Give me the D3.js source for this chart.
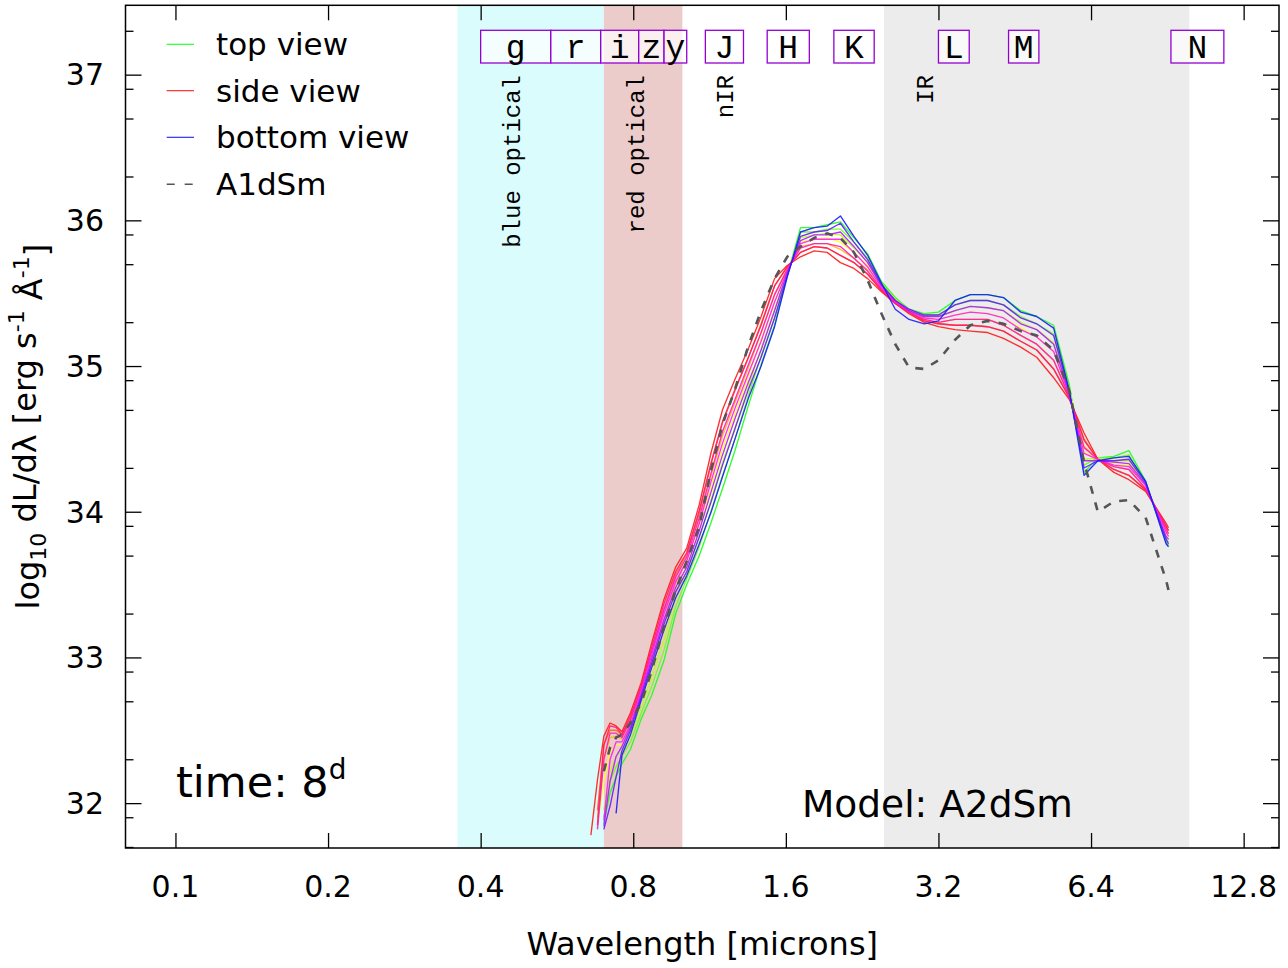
<!DOCTYPE html>
<html><head><meta charset="utf-8">
<script src="https://cdn.jsdelivr.net/npm/d3@7"></script>
<style>
body{margin:0;background:#fff}
text{font-family:"DejaVu Sans",Verdana,sans-serif;fill:#000}
.mono{font-family:"Liberation Mono","Courier New",monospace}
</style>
</head><body>
<svg id="chart" width="1288" height="968"></svg>
<script>
// ---------------- data ----------------
const wavelengths = [0.66,0.68,0.70,0.72,0.74,0.76,0.79,0.83,0.87,0.92,
  0.97,1.02,1.08,1.14,1.20,1.27,1.35,1.43,1.52,1.61,
  1.71,1.82,1.93,2.05,2.18,2.32,2.47,2.63,2.80,3.00,
  3.20,3.45,3.70,4.00,4.30,4.65,5.00,5.40,5.80,6.20,
  6.60,7.10,7.60,8.20,9.00,9.10];

// log10 dL/dlambda for each viewing direction (top -> side -> bottom)
const viewTop = [null,null,31.86,32.07,32.18,32.27,32.37,32.58,32.74,32.98,
  33.30,33.50,33.70,33.93,34.16,34.42,34.73,35.01,35.28,35.62,
  35.95,35.95,35.97,35.99,35.88,35.77,35.58,35.47,35.39,35.36,
  35.37,35.45,35.49,35.49,35.47,35.38,35.34,35.28,34.87,34.27,
  34.37,34.38,34.42,34.21,33.79,33.77];
const view1 = [null,null,31.90,32.15,32.25,32.32,32.42,32.62,32.80,33.05,
  33.35,33.54,33.76,34.01,34.25,34.50,34.80,35.07,35.33,35.63,
  35.92,35.92,35.94,35.94,35.85,35.74,35.57,35.46,35.39,35.35,
  35.35,35.42,35.45,35.45,35.42,35.34,35.29,35.22,34.85,34.32,
  34.37,34.37,34.39,34.20,33.81,33.79];
const view2 = [null,null,31.95,32.22,32.32,32.36,32.46,32.66,32.86,33.12,
  33.41,33.58,33.82,34.09,34.34,34.58,34.86,35.12,35.39,35.64,
  35.88,35.90,35.91,35.90,35.81,35.71,35.56,35.46,35.38,35.34,
  35.34,35.38,35.41,35.40,35.38,35.30,35.25,35.16,34.84,34.36,
  34.37,34.35,34.35,34.19,33.83,33.81];
const view3 = [null,31.85,32.15,32.35,32.40,32.40,32.50,32.71,32.92,33.19,
  33.46,33.63,33.88,34.17,34.43,34.67,34.93,35.18,35.44,35.66,
  35.85,35.87,35.88,35.85,35.78,35.69,35.55,35.45,35.38,35.33,
  35.32,35.35,35.37,35.36,35.33,35.26,35.20,35.10,34.82,34.41,
  34.36,34.33,34.32,34.18,33.86,33.83];
const view4 = [null,31.90,32.30,32.45,32.46,32.44,32.55,32.75,32.98,33.26,
  33.51,33.67,33.93,34.25,34.52,34.75,34.99,35.23,35.49,35.67,
  35.82,35.84,35.84,35.80,35.74,35.66,35.53,35.44,35.37,35.32,
  35.30,35.32,35.32,35.32,35.28,35.21,35.15,35.04,34.80,34.45,
  34.36,34.31,34.29,34.16,33.88,33.85];
const view5 = [null,31.95,32.40,32.50,32.50,32.47,32.58,32.79,33.04,33.33,
  33.57,33.71,33.99,34.33,34.61,34.83,35.06,35.29,35.55,35.68,
  35.78,35.82,35.81,35.76,35.71,35.63,35.52,35.44,35.37,35.31,
  35.29,35.28,35.28,35.27,35.24,35.17,35.11,34.98,34.79,34.50,
  34.36,34.29,34.25,34.15,33.90,33.87];
const viewSide = [31.78,32.16,32.46,32.55,32.53,32.49,32.62,32.83,33.10,33.40,
  33.62,33.75,34.05,34.41,34.70,34.91,35.12,35.34,35.60,35.69,
  35.75,35.79,35.78,35.71,35.67,35.60,35.51,35.43,35.36,35.30,
  35.27,35.25,35.24,35.23,35.19,35.13,35.06,34.92,34.77,34.54,
  34.36,34.27,34.22,34.14,33.92,33.89];
const view7 = [null,31.85,32.40,32.53,32.52,32.47,32.60,32.81,33.07,33.37,
  33.59,33.72,34.01,34.34,34.62,34.84,35.06,35.28,35.55,35.68,
  35.78,35.82,35.81,35.76,35.71,35.63,35.52,35.43,35.37,35.31,
  35.29,35.28,35.28,35.27,35.24,35.17,35.11,34.98,34.78,34.49,
  34.36,34.29,34.25,34.15,33.90,33.87];
const view8 = [null,31.82,32.30,32.48,32.48,32.45,32.57,32.79,33.04,33.33,
  33.55,33.69,33.96,34.27,34.55,34.77,35.01,35.23,35.49,35.66,
  35.81,35.84,35.84,35.82,35.74,35.65,35.53,35.44,35.37,35.32,
  35.30,35.32,35.32,35.32,35.28,35.21,35.15,35.04,34.79,34.44,
  34.36,34.31,34.29,34.16,33.88,33.85];
const view9 = [null,null,31.88,32.30,32.42,32.42,32.54,32.77,33.02,33.30,
  33.52,33.66,33.92,34.21,34.47,34.71,34.95,35.17,35.44,35.65,
  35.84,35.87,35.87,35.87,35.78,35.68,35.54,35.44,35.38,35.33,
  35.32,35.35,35.37,35.36,35.33,35.25,35.20,35.10,34.80,34.40,
  34.36,34.32,34.31,34.18,33.86,33.83];
const view10 = [null,null,31.84,32.15,32.32,32.39,32.52,32.75,32.99,33.26,
  33.48,33.62,33.87,34.14,34.39,34.64,34.89,35.11,35.38,35.64,
  35.86,35.90,35.90,35.92,35.82,35.71,35.55,35.45,35.38,35.34,
  35.34,35.38,35.41,35.40,35.38,35.29,35.25,35.15,34.81,34.35,
  34.35,34.34,34.33,34.19,33.83,33.81];
const view11 = [null,null,31.82,31.98,32.18,32.36,32.50,32.73,32.96,33.23,
  33.45,33.59,33.83,34.07,34.32,34.57,34.84,35.06,35.33,35.62,
  35.89,35.92,35.93,35.98,35.85,35.73,35.56,35.45,35.39,35.35,
  35.35,35.42,35.45,35.45,35.42,35.33,35.29,35.21,34.82,34.30,
  34.35,34.35,34.36,34.20,33.81,33.78];
const viewBottom = [null,null,null,null,31.93,32.33,32.47,32.71,32.93,33.19,
  33.41,33.56,33.78,34.00,34.24,34.50,34.78,35.00,35.27,35.61,
  35.92,35.95,35.96,36.03,35.89,35.76,35.57,35.39,35.32,35.29,
  35.31,35.45,35.49,35.49,35.47,35.37,35.34,35.26,34.83,34.25,
  34.35,34.37,34.38,34.21,33.78,33.76];
const modelA1dSm = [null,null,32.22,32.38,32.45,32.47,32.55,32.69,32.91,33.21,
  33.46,33.66,33.90,34.29,34.60,34.84,35.14,35.38,35.60,35.75,
  35.82,35.88,35.91,35.88,35.78,35.59,35.36,35.15,34.99,34.98,
  35.04,35.18,35.28,35.31,35.29,35.24,35.21,35.11,34.83,34.34,
  34.00,34.07,34.08,33.96,33.53,33.46];

const viewSeries = [viewTop,view1,view2,view3,view4,view5,viewSide,
  view7,view8,view9,view10,view11,viewBottom];

const legendLabels = ["top view","side view","bottom view","A1dSm"];

const xTicks = [0.1,0.2,0.4,0.8,1.6,3.2,6.4,12.8];
const xTickLabels = ["0.1","0.2","0.4","0.8","1.6","3.2","6.4","12.8"];
const yTicks = [32,33,34,35,36,37];
const yMinorMultipliers = [2,5,8];

const bandLo = [0.36,0.70,2.5];
const bandHi = [0.70,1.00,10.0];

const filterNames = ["g","r","i","z","y","J","H","K","L","M","N"];
const filterLo = [0.40,0.55,0.69,0.82,0.92,1.11,1.47,1.99,3.20,4.40,9.20];
const filterHi = [0.55,0.69,0.82,0.92,1.02,1.32,1.78,2.39,3.68,5.05,11.70];

const regionLabels = ["blue optical","red optical","nIR","IR"];
const regionLabelWl = [0.46,0.81,1.21,3.0];

// ---------------- layout ----------------
const X0 = 125.5, X1 = 1279, Y0 = 5.3, Y1 = 848;
const svg = d3.select("#chart");
svg.append("rect").attr("width",1288).attr("height",968).attr("fill","#fff");

const x = d3.scaleLog().base(2).domain([0.0797, 15.03]).range([X0, X1]);
const y = d3.scaleLinear().domain([31.692, 37.476]).range([Y1, Y0]);

// bands
const bandColors = ["#dbfcfc","#ecccca","#ececec"];
svg.append("g").selectAll("rect").data(bandLo).join("rect")
  .attr("x",(d)=>x(d)).attr("width",(d,i)=>x(bandHi[i])-x(d))
  .attr("y",Y0).attr("height",Y1-Y0).attr("fill",(d,i)=>bandColors[i]);

// filter boxes
const fg = svg.append("g");
fg.selectAll("rect").data(filterNames).join("rect")
  .attr("x",(d,i)=>x(filterLo[i])).attr("width",(d,i)=>x(filterHi[i])-x(filterLo[i]))
  .attr("y",30.3).attr("height",32.7)
  .attr("fill","#fff").attr("fill-opacity",0.7)
  .attr("stroke","#9400d3").attr("stroke-width",1.3);
fg.selectAll("text").data(filterNames).join("text")
  .attr("class","mono")
  .attr("x",(d,i)=>x(Math.sqrt(filterLo[i]*filterHi[i])))
  .attr("y",58).attr("text-anchor","middle")
  .style("font-size","33px").text(d=>d);

// region labels
svg.append("g").selectAll("text").data(regionLabels).join("text")
  .attr("class","mono")
  .attr("transform",(d,i)=>`translate(${x(regionLabelWl[i])},75) rotate(-90)`)
  .attr("text-anchor","end").attr("dy","0.35em")
  .style("font-size","24px").text(d=>d);

// curves
const line = d3.line()
  .defined(d=>d[1]!=null)
  .x(d=>x(d[0])).y(d=>y(d[1]));
const nV = viewSeries.length, half = (nV-1)/2;
function viewColor(j){
  const h = j<=half ? 120 - 120*j/half : 360 - 120*(j-half)/half;
  return d3.hsl(h,1,0.55).formatRgb();
}
const cg = svg.append("g").attr("fill","none");
viewSeries.forEach((s,j)=>{
  cg.append("path")
    .attr("d", line(wavelengths.map((w,i)=>[w,s[i]])))
    .attr("stroke", viewColor(j)).attr("stroke-width",1.35)
    .attr("stroke-opacity",0.9).attr("stroke-linejoin","round");
});
cg.append("path")
  .attr("d", line(wavelengths.map((w,i)=>[w,modelA1dSm[i]])))
  .attr("stroke","#555").attr("stroke-width",2.6)
  .attr("stroke-dasharray","8,9");

// axes ticks
function styleAxis(g){ g.select(".domain").remove(); g.selectAll("line").attr("stroke","#000").attr("stroke-width",1.3); }
svg.append("g").attr("transform",`translate(0,${Y1})`)
  .call(d3.axisBottom(x).tickValues(xTicks).tickSize(-15).tickFormat("")).call(styleAxis);
svg.append("g").attr("transform",`translate(0,${Y0})`)
  .call(d3.axisTop(x).tickValues(xTicks).tickSize(-15).tickFormat("")).call(styleAxis);
const yMinor = [];
for(let n=31;n<=37;n++) yMinorMultipliers.forEach(m=>{ const v=n+Math.log10(m); if(v>y.domain()[0]&&v<y.domain()[1]) yMinor.push(v); });
svg.append("g").attr("transform",`translate(${X0},0)`)
  .call(d3.axisLeft(y).tickValues(yTicks).tickSize(-16).tickFormat("")).call(styleAxis);
svg.append("g").attr("transform",`translate(${X0},0)`)
  .call(d3.axisLeft(y).tickValues(yMinor).tickSize(-8).tickFormat("")).call(styleAxis);
svg.append("g").attr("transform",`translate(${X1},0)`)
  .call(d3.axisRight(y).tickValues(yTicks).tickSize(-16).tickFormat("")).call(styleAxis);
svg.append("g").attr("transform",`translate(${X1},0)`)
  .call(d3.axisRight(y).tickValues(yMinor).tickSize(-8).tickFormat("")).call(styleAxis);

// frame
svg.append("rect").attr("x",X0).attr("y",Y0).attr("width",X1-X0).attr("height",Y1-Y0)
  .attr("fill","none").attr("stroke","#000").attr("stroke-width",1.5);

// tick labels
svg.append("g").selectAll("text").data(xTicks).join("text")
  .attr("x",d=>x(d)).attr("y",897).attr("text-anchor","middle")
  .style("font-size","30px").text((d,i)=>xTickLabels[i]);
svg.append("g").selectAll("text").data(yTicks).join("text")
  .attr("x",104).attr("y",d=>y(d)).attr("dy","0.36em").attr("text-anchor","end")
  .style("font-size","30px").text(d=>d);

// axis titles
svg.append("text").attr("x",(X0+X1)/2).attr("y",955).attr("text-anchor","middle")
  .style("font-size","32px").text("Wavelength [microns]");
const yt = svg.append("text").attr("transform",`translate(39,${(Y0+Y1)/2}) rotate(-90)`)
  .attr("text-anchor","middle").style("font-size","32px");
yt.append("tspan").text("log");
yt.append("tspan").attr("dy","0.3em").style("font-size","22px").text("10");
yt.append("tspan").attr("dy","-0.3em").text(" dL/dλ [erg s");
yt.append("tspan").attr("dy","-0.55em").style("font-size","22px").text("-1");
yt.append("tspan").attr("dy","0.55em").text(" Å");
yt.append("tspan").attr("dy","-0.55em").style("font-size","22px").text("-1");
yt.append("tspan").attr("dy","0.55em").text("]");

// annotations
const tt = svg.append("text").attr("x",176).attr("y",797).style("font-size","43px");
tt.append("tspan").text("time: 8");
tt.append("tspan").attr("dy",-18).style("font-size","28px").text("d");
svg.append("text").attr("x",802).attr("y",817).style("font-size","37.5px").text("Model: A2dSm");

// legend
const legY = [44.3,90.7,137.3,184.3];
const legColors = [viewColor(0),viewColor(half),viewColor(nV-1),"#555"];
const lg = svg.append("g");
legendLabels.forEach((lab,i)=>{
  lg.append("line").attr("x1",166.7).attr("x2",194).attr("y1",legY[i]).attr("y2",legY[i])
    .attr("stroke",legColors[i]).attr("stroke-width",i===3?1.6:1.1)
    .attr("stroke-dasharray",i===3?"8,10":null);
  lg.append("text").attr("x",216).attr("y",legY[i]).attr("dy","0.36em")
    .style("font-size","31px").text(lab);
});

// sanity check on series lengths
const bad = viewSeries.concat([modelA1dSm]).filter(s=>s.length!==wavelengths.length).length;
if(bad) svg.append("text").attr("x",600).attr("y",500).attr("fill","red").text("LEN MISMATCH "+bad);
</script>
</body></html>
